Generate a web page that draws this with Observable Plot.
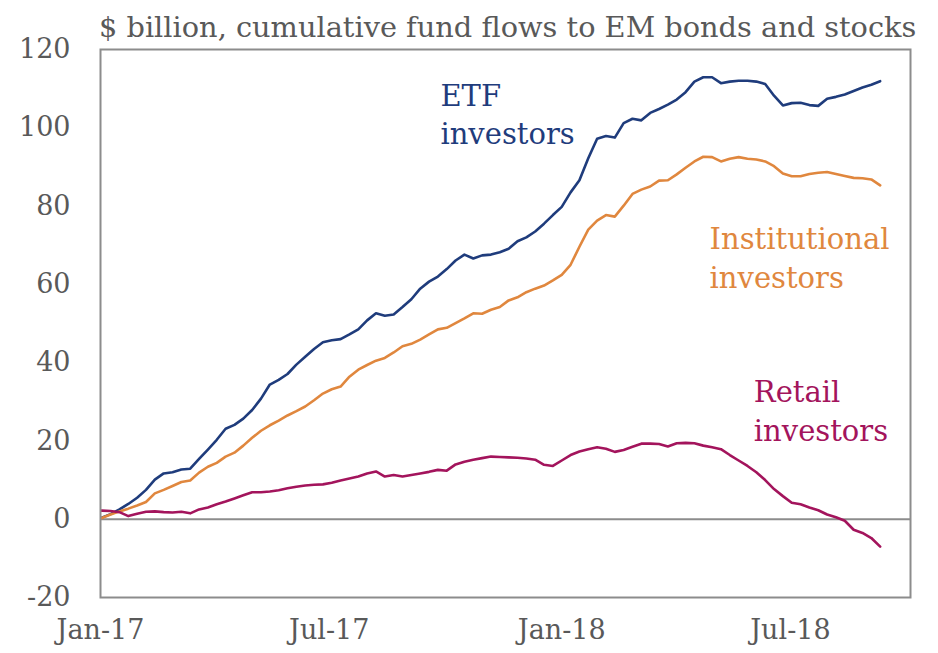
<!DOCTYPE html>
<html>
<head>
<meta charset="utf-8">
<script src="https://cdn.jsdelivr.net/npm/d3@7"></script>
<script src="https://cdn.jsdelivr.net/npm/@observablehq/plot@0.6"></script>
<style>
  html, body { margin: 0; padding: 0; background: #fff; }
  #wrap { position: relative; width: 938px; height: 653px; }
  #title { position: absolute; left: 99px; top: 7px; line-height: 40px; font-family: "DejaVu Serif", serif; font-size: 28.8px; color: #595959; white-space: nowrap; }
  #chart { position: absolute; left: 0; top: 0; }
</style>
</head>
<body>
<div id="wrap">
  <div id="chart"></div>
  <div id="title">$ billion, cumulative fund flows to EM bonds and stocks</div>
</div>
<script>
const dates = [
  "2017-01-02","2017-01-09","2017-01-16","2017-01-23","2017-01-30",
  "2017-02-06","2017-02-13","2017-02-20","2017-02-27",
  "2017-03-06","2017-03-13","2017-03-20","2017-03-27",
  "2017-04-03","2017-04-10","2017-04-17","2017-04-24",
  "2017-05-01","2017-05-08","2017-05-15","2017-05-22","2017-05-29",
  "2017-06-05","2017-06-12","2017-06-19","2017-06-26",
  "2017-07-03","2017-07-10","2017-07-17","2017-07-24","2017-07-31",
  "2017-08-07","2017-08-14","2017-08-21","2017-08-28",
  "2017-09-04","2017-09-11","2017-09-18","2017-09-25",
  "2017-10-02","2017-10-09","2017-10-16","2017-10-23","2017-10-30",
  "2017-11-06","2017-11-13","2017-11-20","2017-11-27",
  "2017-12-04","2017-12-11","2017-12-18","2017-12-25",
  "2018-01-01","2018-01-08","2018-01-15","2018-01-22","2018-01-29",
  "2018-02-05","2018-02-12","2018-02-19","2018-02-26",
  "2018-03-05","2018-03-12","2018-03-19","2018-03-26",
  "2018-04-02","2018-04-09","2018-04-16","2018-04-23","2018-04-30",
  "2018-05-07","2018-05-14","2018-05-21","2018-05-28",
  "2018-06-04","2018-06-11","2018-06-18","2018-06-25",
  "2018-07-02","2018-07-09","2018-07-16","2018-07-23","2018-07-30",
  "2018-08-06","2018-08-13","2018-08-20","2018-08-27",
  "2018-09-03","2018-09-10"
];

const etf = [
  0.4, 1.3, 2.5, 3.9, 5.5, 7.5, 10.1, 11.7, 12.0, 12.7,
  12.9, 15.4, 17.8, 20.3, 23.1, 24.1, 25.7, 27.9, 30.8, 34.4,
  35.6, 37.1, 39.5, 41.5, 43.5, 45.2, 45.7, 46.0, 47.2, 48.5,
  50.8, 52.6, 52.0, 52.3, 54.2, 56.2, 58.9, 60.7, 62.0, 63.9,
  66.1, 67.6, 66.6, 67.4, 67.6, 68.2, 69.1, 71.0, 72.0, 73.5,
  75.5, 77.7, 79.8, 83.5, 86.6, 92.2, 97.2, 97.9, 97.5, 101.2,
  102.3, 101.9, 103.8, 104.8, 105.9, 107.2, 109.1, 111.8, 112.9, 112.9,
  111.4, 111.8, 112.0, 112.0, 111.8, 111.2, 108.2, 105.7, 106.3, 106.4,
  105.8, 105.6, 107.4, 107.9, 108.5, 109.4, 110.3, 111.0, 111.9
];

const institutional = [
  0.3, 1.2, 2.0, 2.7, 3.5, 4.4, 6.6, 7.5, 8.5, 9.5,
  9.9, 11.9, 13.4, 14.4, 16.0, 17.0, 18.8, 20.8, 22.6, 24.0,
  25.2, 26.5, 27.6, 28.8, 30.4, 32.1, 33.2, 33.9, 36.4, 38.2,
  39.4, 40.5, 41.2, 42.6, 44.2, 44.8, 45.9, 47.2, 48.5, 48.9,
  50.1, 51.3, 52.6, 52.5, 53.5, 54.2, 55.9, 56.7, 58.0, 58.9,
  59.7, 61.0, 62.4, 65.0, 69.6, 74.0, 76.3, 77.7, 77.3, 80.1,
  83.1, 84.2, 85.0, 86.5, 86.6, 88.1, 89.8, 91.4, 92.6, 92.5,
  91.4, 92.1, 92.5, 92.1, 91.9, 91.4, 90.2, 88.3, 87.6, 87.6,
  88.2, 88.5, 88.7, 88.2, 87.7, 87.2, 87.1, 86.8, 85.3
];

const retail = [
  2.2, 2.1, 1.8, 0.8, 1.4, 1.9, 2.0, 1.8, 1.7, 1.9,
  1.5, 2.5, 3.0, 3.8, 4.5, 5.3, 6.1, 6.9, 6.9, 7.1,
  7.4, 7.9, 8.3, 8.6, 8.8, 8.9, 9.3, 9.9, 10.4, 10.9,
  11.7, 12.2, 10.9, 11.3, 10.9, 11.3, 11.7, 12.1, 12.6, 12.4,
  14.0, 14.7, 15.2, 15.6, 16.0, 15.9, 15.8, 15.7, 15.5, 15.2,
  13.9, 13.6, 15.0, 16.4, 17.3, 17.9, 18.4, 18.0, 17.2, 17.7,
  18.5, 19.3, 19.3, 19.2, 18.6, 19.4, 19.5, 19.4, 18.8, 18.4,
  17.9, 16.4, 15.0, 13.6, 12.0, 10.0, 7.7, 5.9, 4.2, 3.8,
  3.0, 2.3, 1.2, 0.5, -0.4, -2.7, -3.5, -4.8, -7.0
];

const seriesNames = ["ETF", "Institutional", "Retail"];
const seriesColors = ["#1f3c7c", "#e0873e", "#a3145c"];
const labelTexts = ["ETF\ninvestors", "Institutional\ninvestors", "Retail\ninvestors"];
const labelDates = ["2017-09-27", "2018-04-28", "2018-06-02"];
const labelValues = [112.6, 76.0, 36.9];

const xTickDates = ["2017-01-01", "2017-07-01", "2018-01-01", "2018-07-01"];
const xTickLabels = ["Jan-17", "Jul-17", "Jan-18", "Jul-18"];
const yTicks = [-20, 0, 20, 40, 60, 80, 100, 120];
const yTickLabels = ["-20", "0", "20", "40", "60", "80", "100", "120"];
const xDomain = ["2017-01-01", "2018-10-04"];
const yDomain = [-20, 120];

const parse = d3.utcParse("%Y-%m-%d");
const valuesBySeries = [etf, institutional, retail];
const rows = [];
seriesNames.forEach((name, i) => {
  valuesBySeries[i].forEach((v, j) => rows.push({series: name, date: parse(dates[j]), value: v}));
});
const labels = seriesNames.map((name, i) => ({
  series: name, text: labelTexts[i], date: parse(labelDates[i]), value: labelValues[i], color: seriesColors[i]
}));
const tickDates = xTickDates.map(parse);
const fmtX = d => xTickLabels[tickDates.findIndex(t => +t === +d)];
const fmtY = v => yTickLabels[yTicks.indexOf(v)];

const chart = Plot.plot({
  width: 938,
  height: 653,
  marginLeft: 100,
  marginRight: 28,
  marginTop: 49,
  marginBottom: 56,
  style: {fontFamily: "DejaVu Serif, serif", fontSize: "27px", color: "#595959", background: "#fff"},
  x: {type: "utc", domain: xDomain.map(parse)},
  y: {domain: yDomain},
  color: {domain: seriesNames, range: seriesColors},
  marks: [
    Plot.axisY(yTicks, {tickSize: 0, tickPadding: 30, fontSize: 27, tickFormat: fmtY, label: null}),
    Plot.axisX(tickDates, {tickSize: 0, tickPadding: 22, fontSize: 27, tickFormat: fmtX, label: null}),
    Plot.ruleY([0], {stroke: "#8c8c8c", strokeWidth: 2}),
    Plot.lineY(rows, {x: "date", y: "value", stroke: "series", z: "series", strokeWidth: 2.6}),
    Plot.frame({stroke: "#8c8c8c", strokeWidth: 2}),
    Plot.text(labels, {x: "date", y: "value", text: "text", fill: "color", textAnchor: "start", lineAnchor: "top", lineHeight: 1.33, fontSize: 29})
  ]
});
document.getElementById("chart").appendChild(chart);
</script>
</body>
</html>
